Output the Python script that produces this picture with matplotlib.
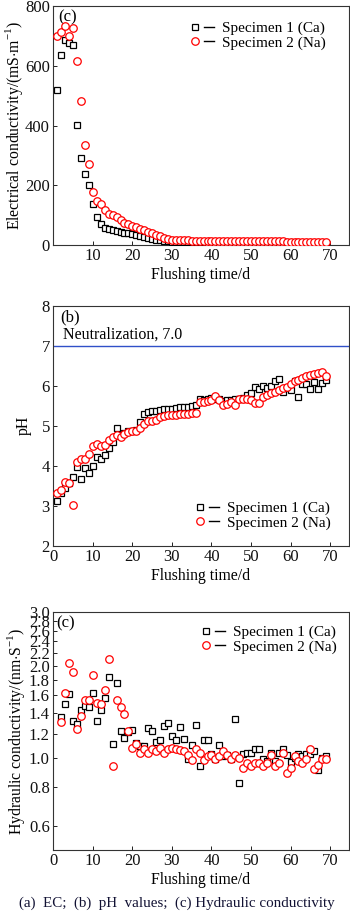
import matplotlib
matplotlib.use("Agg")
import matplotlib.pyplot as plt
from matplotlib.lines import Line2D
from matplotlib.legend_handler import HandlerTuple
from matplotlib.ticker import FixedLocator, FormatStrFormatter, NullLocator
import numpy as np

plt.rcParams['font.family'] = ['Liberation Serif', 'DejaVu Serif']
plt.rcParams['mathtext.fontset'] = 'custom'
plt.rcParams['mathtext.rm'] = 'Liberation Serif'

# ---------------- data ----------------
days_ec = list(range(1, 70))
ec_ca = [520, 635, 685, 675, 670, 402, 292, 239, 200, 137, 95, 69, 58, 52, 50, 47, 44, 41, 39, 36,
         33, 30, 27, 24, 21, 18, 16, 14, 12, 11, 10, 10, 10, 9, 9, 9, 9, 9, 8, 8,
         8, 8, 8, 8, 7, 7, 7, 7, 7, 7, 7, 6, 6, 6, 6, 6, 6, 6, 6, 6,
         5, 5, 5, 5, 5, 5, 5, 5, 5]
ec_na = [700, 714, 734, 700, 726, 617, 481, 334, 272, 176, 146, 136, 118, 105, 100, 93, 84, 75, 70, 65,
         60, 55, 50, 45, 40, 35, 30, 25, 20, 18, 17, 16, 16, 16, 15, 15, 15, 15, 15, 15,
         14, 14, 14, 14, 14, 14, 13, 13, 13, 13, 12, 12, 12, 12, 12, 12, 12, 12, 11, 11,
         11, 11, 11, 11, 10, 10, 10, 10, 10]

days_ph = list(range(1, 70))
ph_ca = [3.13, 3.33, 3.45, 3.58, 3.71, 3.98, 3.68, 3.94, 3.81, 4.00, 4.23, 4.16, 4.27, 4.44, 4.60, 4.94,
         4.78, 4.83, 4.86, 4.88, 4.90, 5.10, 5.29, 5.35, 5.36, 5.38, 5.40, 5.41, 5.42, 5.43, 5.44,
         5.46, 5.47, 5.48, 5.50, 5.51, 5.68, 5.65, 5.67, 5.70, 5.68, 5.66, 5.62, 5.65, 5.64, 5.66,
         5.68, 5.70, 5.77, 5.81, 5.97, 5.92, 6.00, 5.95, 6.00, 6.12, 6.17, 5.85, 5.95, 5.90, 6.13,
         5.72, 6.05, 6.05, 5.92, 6.10, 5.93, 6.08, 6.15]
ph_na = [3.31, 3.39, 3.60, 3.58, 3.02, 4.10, 4.16, 4.18, 4.30, 4.50, 4.55, 4.50, 4.52, 4.65, 4.71, 4.77,
         4.72, 4.80, 4.85, 4.87, 4.88, 4.94, 5.04, 5.12, 5.12, 5.15, 5.22, 5.25, 5.27, 5.28, 5.28,
         5.29, 5.30, 5.30, 5.31, 5.33, 5.60, 5.60, 5.62, 5.65, 5.75, 5.65, 5.52, 5.55, 5.60, 5.52,
         5.68, 5.68, 5.67, 5.65, 5.58, 5.57, 5.71, 5.76, 5.81, 5.85, 5.90, 5.94, 5.98, 6.06, 6.13,
         6.15, 6.21, 6.24, 6.27, 6.31, 6.33, 6.35, 6.24]
neutral_ph = 7.0

days_hc = list(range(2, 70))
hc_ca = [1.36, 1.50, 1.62, 1.32, 1.29, 1.43, 1.48, 1.465, 1.625, 1.32, 1.43, 1.565, 1.83, 1.11, 1.75,
         1.22, 1.16, 1.21, 1.23, 1.12, 1.09, 1.09, 1.25, 1.22, 1.13, 1.14, 1.27, 1.30, 1.18, 1.14,
         1.26, 1.15, 0.99, 1.105, 1.28, 0.94, 1.14, 1.14, 1.03, 0.99, 1.105, 1.01, 1.02, 0.99, 1.335,
         0.83, 1.03, 1.035, 1.035, 1.07, 1.07, 0.99, 0.975, 1.04, 0.975, 1.035, 1.07, 1.02, 0.97,
         1.00, 1.03, 1.01, 1.03, 1.03, 1.05, 0.915, 1.00, 1.01]
hc_na = [1.31, 1.63, 2.04, 1.91, 1.245, 1.37, 1.545, 1.545, 1.86, 1.515, 1.50, 1.665, 2.11, 0.94, 1.545,
         1.46, 1.39, 1.22, 1.08, 1.11, 1.04, 1.065, 1.04, 1.07, 1.05, 1.08, 1.04, 1.07, 1.08, 1.065,
         1.06, 1.05, 1.02, 0.98, 1.065, 1.04, 0.98, 1.01, 1.02, 0.99, 1.01, 1.05, 1.02, 0.99, 1.02,
         1.00, 0.925, 0.965, 0.94, 0.96, 0.965, 0.94, 0.96, 1.02, 0.94, 0.96, 1.04, 0.89, 0.925,
         1.01, 0.975, 0.96, 0.99, 1.065, 0.92, 0.95, 0.99, 0.99]

labels = ["Specimen 1 (Ca)", "Specimen 2 (Na)"]
x_ticks = [0, 10, 20, 30, 40, 50, 60, 70]
ec_ticks = [0, 200, 400, 600, 800]
ph_ticks = [2, 3, 4, 5, 6, 7, 8]
hc_ticks = [0.6, 0.8, 1.0, 1.2, 1.4, 1.6, 1.8, 2.0, 2.2, 2.4, 2.6, 2.8, 3.0]
caption = "(a)  EC;  (b)  pH  values;  (c) Hydraulic conductivity"

# ---------------- figure ----------------
W, H = 350, 911
fig = plt.figure(figsize=(W / 100, H / 100), dpi=100)

def box(top, bottom, left=53.3, right=348.7):
    return [left / W, 1 - bottom / H, (right - left) / W, (bottom - top) / H]

ax1 = fig.add_axes(box(6, 245))
ax2 = fig.add_axes(box(306, 545.7))
ax3 = fig.add_axes(box(611.7, 850))

sq = dict(marker='s', ms=4.6, mfc='white', mec='black', mew=0.9, ls='none')
ci = dict(marker='o', ms=5.4, mfc='white', mec='#ff0000', mew=0.9, ls='none')
TFS = 12
LFS = 11.3

def style(ax):
    ax.tick_params(direction='in', length=3, width=0.7, labelsize=TFS, pad=2.5,
                   top=False, right=False, colors='#222222', labelcolor='#111111')
    for s in ax.spines.values():
        s.set_linewidth(0.8)
        s.set_color('#333333')
    ax.set_xlim(0, 74.7)
    ax.set_xticks(x_ticks)
    ax.set_xlabel("Flushing time/d", fontsize=LFS, labelpad=2)

def add_legend(ax, loc, anchor):
    h1 = (Line2D([], [], **sq), Line2D([], [], color='black', lw=1.0))
    h2 = (Line2D([], [], **ci), Line2D([], [], color='black', lw=1.0))
    ax.legend([h1, h2], labels, loc=loc, bbox_to_anchor=anchor, frameon=False,
              handler_map={tuple: HandlerTuple(ndivide=None, pad=0.3)},
              handlelength=1.6, handletextpad=0.5, fontsize=11,
              labelspacing=0.05, borderaxespad=0.0)

# Panel 1: EC
ax1.plot(days_ec, ec_ca, **sq, zorder=3)
ax1.plot(days_ec, ec_na, **ci, zorder=4)
style(ax1)
ax1.set_ylim(0, 800)
ax1.set_yticks(ec_ticks)
ax1.set_xticklabels([''] + [str(t) for t in x_ticks[1:]])
ax1.set_ylabel("Electrical conductivity/(mS$\\cdot$m$^{-1}$)", fontsize=LFS, labelpad=0)
ax1.text(0.018, 0.985, "(c)", transform=ax1.transAxes, fontsize=12, va='top', ha='left')
add_legend(ax1, 'upper right', (0.943, 0.962))

# Panel 2: pH
ax2.plot(days_ph, ph_ca, **sq, zorder=3)
ax2.plot(days_ph, ph_na, **ci, zorder=4)
ax2.axhline(neutral_ph, color='#3050c8', lw=1.0, zorder=2)
style(ax2)
ax2.set_ylim(2, 8)
ax2.set_yticks(ph_ticks)
ax2.set_ylabel("pH", fontsize=LFS, labelpad=7)
ax2.text(0.025, 0.985, "(b)", transform=ax2.transAxes, fontsize=12, va='top', ha='left')
ax2.text(2.5, neutral_ph + 0.08, "Neutralization, 7.0", fontsize=11.5, va='bottom', ha='left')
add_legend(ax2, 'lower right', (0.96, 0.04))

# Panel 3: HC
ax3.plot(days_hc, hc_ca, **sq, zorder=3)
ax3.plot(days_hc, hc_na, **ci, zorder=4)
style(ax3)
ax3.set_yscale('log')
ax3.set_ylim(0.5, 3.0)
ax3.yaxis.set_major_locator(FixedLocator(hc_ticks))
ax3.yaxis.set_major_formatter(FormatStrFormatter('%.1f'))
ax3.yaxis.set_minor_locator(NullLocator())
ax3.set_ylabel("Hydraulic conductivity/(nm$\\cdot$S$^{-1}$)", fontsize=LFS, labelpad=1)
ax3.text(0.01, 0.985, "(c)", transform=ax3.transAxes, fontsize=12, va='top', ha='left')
add_legend(ax3, 'upper right', (0.98, 0.969))

fig.text(0.5 + 2 / W, 1 - 903 / H, caption, fontsize=10.8, ha='center', va='center', color='#111133')

fig.savefig("out.png", dpi=100)
